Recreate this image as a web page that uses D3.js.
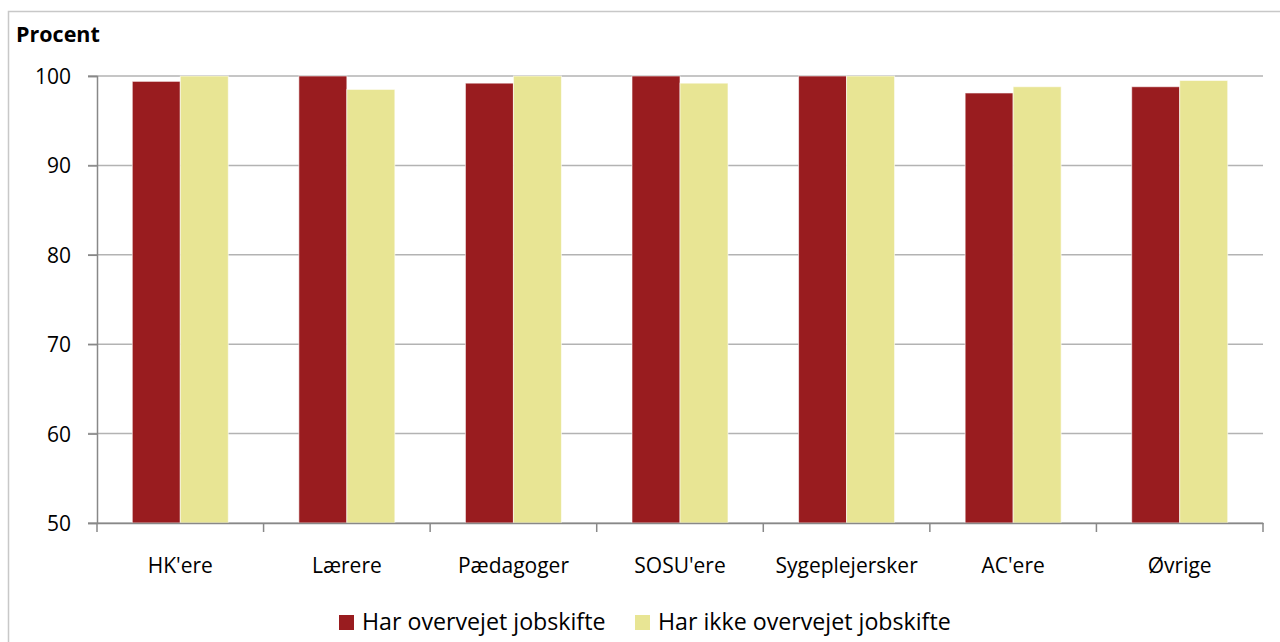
<!DOCTYPE html>
<html>
<head>
<meta charset="utf-8">
<script src="https://d3js.org/d3.v7.min.js"></script>
<style>
  body { margin: 0; padding: 0; background: #fff; }
  svg text { font-family: "Open Sans", "Liberation Sans", sans-serif; fill: #000; }
  .tick text { font-size: 21px; }
  .grid line { stroke: #b3b3b3; stroke-width: 1.5px; }
</style>
</head>
<body>
<div id="chart"></div>
<script>
var categories = ["HK'ere", "Lærere", "Pædagoger", "SOSU'ere", "Sygeplejersker", "AC'ere", "Øvrige"];
var seriesNames = ["Har overvejet jobskifte", "Har ikke overvejet jobskifte"];
var harOvervejet = [99.4, 100, 99.2, 100, 100, 98.1, 98.8];
var harIkkeOvervejet = [100, 98.5, 100, 99.2, 100, 98.8, 99.5];
var yTicks = [50, 60, 70, 80, 90, 100];
var colors = ["#991c1f", "#e8e594"];

var width = 1280, height = 642;
var margin = {left: 97, right: 17, top: 76, bottom: 119};

var svg = d3.select("#chart").append("svg")
    .attr("width", width)
    .attr("height", height);

// chart frame
svg.append("rect")
    .attr("x", 8.5).attr("y", 11.5)
    .attr("width", 1300).attr("height", 700)
    .attr("fill", "none")
    .attr("stroke", "#c8c8c8")
    .attr("stroke-width", 1.5);

var x = d3.scaleBand()
    .domain(categories)
    .range([margin.left, width - margin.right]);

var x1 = d3.scaleBand()
    .domain([0, 1])
    .range([0, x.bandwidth()])
    .paddingOuter(0.735)
    .paddingInner(0);

var y = d3.scaleLinear()
    .domain([50, 100])
    .range([height - margin.bottom, margin.top]);

// gridlines
svg.append("g")
    .attr("class", "grid")
    .selectAll("line")
    .data(yTicks)
    .enter().append("line")
    .attr("x1", margin.left - 9)
    .attr("x2", width - margin.right)
    .attr("y1", function(d) { return y(d); })
    .attr("y2", function(d) { return y(d); });

// bars
var rows = categories.map(function(c, i) {
    return {cat: c, vals: [harOvervejet[i], harIkkeOvervejet[i]]};
});

var groups = svg.append("g").selectAll("g")
    .data(rows)
    .enter().append("g")
    .attr("transform", function(d) { return "translate(" + x(d.cat) + ",0)"; });

groups.selectAll("rect")
    .data(function(d) { return d.vals.map(function(v, j) { return {v: v, j: j}; }); })
    .enter().append("rect")
    .attr("x", function(d) { return x1(d.j); })
    .attr("width", x1.bandwidth())
    .attr("y", function(d) { return y(d.v); })
    .attr("height", function(d) { return y(50) - y(d.v); })
    .attr("fill", function(d) { return colors[d.j]; })
    .attr("stroke", "rgba(255,255,255,0.6)")
    .attr("stroke-width", 1);

// y axis
var yAxis = svg.append("g")
    .attr("transform", "translate(" + margin.left + ",0)")
    .call(d3.axisLeft(y).tickValues(yTicks).tickSize(9).tickPadding(17));
yAxis.select(".domain").attr("stroke", "#888").attr("stroke-width", 1.5);
yAxis.selectAll(".tick line").attr("stroke", "#888").attr("stroke-width", 1.5);
yAxis.selectAll(".tick text").attr("font-size", "22px").attr("dy", "0.36em");

// x axis
var xAxis = svg.append("g")
    .attr("transform", "translate(0," + y(50) + ")")
    .call(d3.axisBottom(x).tickSize(0).tickPadding(50));
xAxis.select(".domain").attr("stroke", "#888").attr("stroke-width", 1.5);
xAxis.selectAll(".tick text").attr("font-size", "22px").attr("dy", "0");

// category separator ticks
xAxis.append("g").selectAll("line")
    .data(d3.range(categories.length + 1))
    .enter().append("line")
    .attr("x1", function(i) { return margin.left + i * x.step(); })
    .attr("x2", function(i) { return margin.left + i * x.step(); })
    .attr("y1", 0).attr("y2", 9)
    .attr("stroke", "#888").attr("stroke-width", 1.5);

// y title
svg.append("text")
    .attr("x", 16).attr("y", 42)
    .attr("font-size", "21.5px")
    .attr("font-weight", "bold")
    .text("Procent");

// legend
var legend = svg.append("g").attr("transform", "translate(339,615)");
var lx = [0, 296];
seriesNames.forEach(function(name, i) {
    var g = legend.append("g").attr("transform", "translate(" + lx[i] + ",0)");
    g.append("rect").attr("width", 15).attr("height", 15).attr("fill", colors[i]);
    g.append("text").attr("x", 23).attr("y", 15).attr("font-size", "23.2px").text(name);
});
</script>
</body>
</html>
